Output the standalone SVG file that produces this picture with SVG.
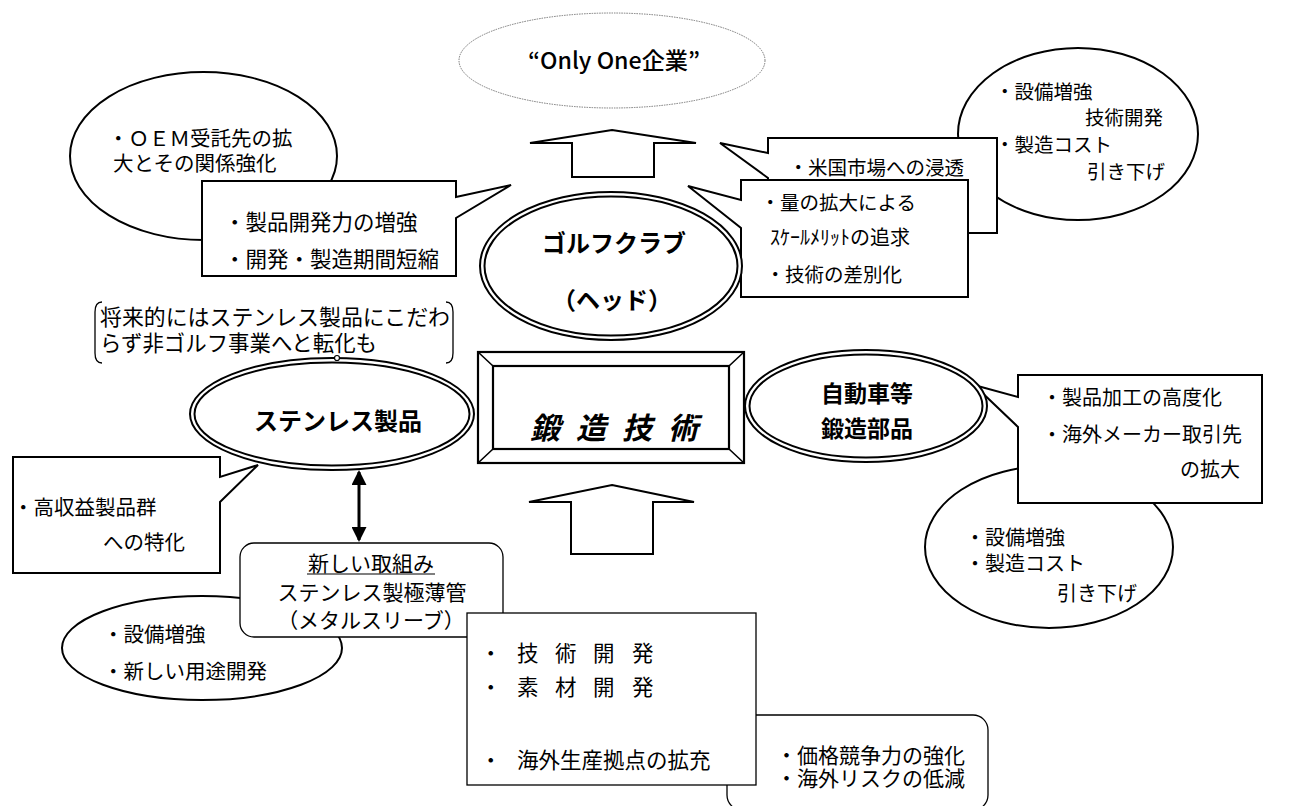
<svg xmlns="http://www.w3.org/2000/svg" width="1303" height="806" viewBox="0 0 1303 806">
<defs>
<style>
.s{fill:#fff;stroke:#000;stroke-width:2}
.th{fill:#fff;stroke:#000;stroke-width:1.3}
.t{font-family:"Noto Sans CJK JP","Noto Sans CJK SC",sans-serif;fill:#000}
.b{font-weight:700}
</style>
<marker id="ah" viewBox="0 0 10 10" refX="8.7" refY="5" markerWidth="15" markerHeight="15" markerUnits="userSpaceOnUse" orient="auto-start-reverse">
<path d="M0,0 L10,5 L0,10 Z" fill="#000"/>
</marker>
</defs>
<rect width="1303" height="806" fill="#fff"/>

<g id="only-one">
<ellipse cx="612" cy="60.5" rx="153" ry="47.5" fill="#fff" stroke="#777" stroke-width="1" stroke-dasharray="1.5 1"/>
<text class="t" x="528" y="69" font-size="23" font-weight="500" textLength="172" lengthAdjust="spacingAndGlyphs">“Only One企業”</text>
</g>

<g id="oem">
<ellipse class="s" cx="203.5" cy="156" rx="133.5" ry="84"/>
<text class="t" font-size="20.5"><tspan x="108" y="146">・ＯＥＭ受託先の拡</tspan><tspan x="113" y="171">大とその関係強化</tspan></text>
</g>

<g id="golf-left-note">
<path class="s" d="M202,181 H456 V197 L511,185 L456,218 V276 H202 Z"/>
<text class="t" font-size="21.5"><tspan x="224" y="230">・製品開発力の増強</tspan><tspan x="224" y="267">・開発・製造期間短縮</tspan></text>
</g>

<g id="topright-ellipse">
<ellipse class="s" cx="1078" cy="134" rx="120" ry="86"/>
<text class="t" font-size="19.5"><tspan x="995" y="99">・設備増強</tspan><tspan x="1085" y="125">技術開発</tspan><tspan x="995" y="152">・製造コスト</tspan><tspan x="1087" y="179">引き下げ</tspan></text>
</g>

<g id="golf-right-note1">
<path class="s" d="M768,138 H997 V233 H768 V178 L720,143 L768,153 Z"/>
<text class="t" font-size="19.5" x="788.5" y="175">・米国市場への浸透</text>
</g>

<g id="golf-right-note2">
<path class="s" d="M741,180 H968 V297 H741 V228 L688,186 L741,200 Z"/>
<text class="t" font-size="19.5"><tspan x="760.5" y="210">・量の拡大による</tspan><tspan x="770" y="245" font-size="20">ｽｹｰﾙﾒﾘｯﾄの追求</tspan><tspan x="765.5" y="282">・技術の差別化</tspan></text>
</g>

<g id="golf">
<ellipse class="s" cx="611" cy="266" rx="131" ry="74"/>
<ellipse fill="none" stroke="#000" stroke-width="2" cx="611" cy="266" rx="126.5" ry="69.5"/>
<text class="t b" font-size="24" text-anchor="middle"><tspan x="614" y="252">ゴルフクラブ</tspan><tspan x="612" y="309">（ヘッド）</tspan></text>
</g>

<g id="future-note">
<path d="M102,302 Q95,302 95,312 L95,353 Q95,363 102,363" fill="none" stroke="#000" stroke-width="1.3"/>
<path d="M446,302 Q453,302 453,312 L453,353 Q453,363 446,363" fill="none" stroke="#000" stroke-width="1.3"/>
<text class="t" font-size="22"><tspan x="100" y="325" textLength="350" lengthAdjust="spacingAndGlyphs">将来的にはステンレス製品にこだわ</tspan><tspan x="100" y="351" textLength="277" lengthAdjust="spacingAndGlyphs">らず非ゴルフ事業へと転化も</tspan></text>
</g>

<g id="stainless-note">
<path class="s" d="M13,457 H220 V477 L258,465 L220,502 V573 H13 Z"/>
<text class="t" font-size="20.5"><tspan x="13" y="515">・高収益製品群</tspan><tspan x="103" y="550">への特化</tspan></text>
</g>

<g id="stainless">
<ellipse class="s" cx="332" cy="414" rx="142" ry="56"/>
<ellipse fill="none" stroke="#000" stroke-width="2" cx="332" cy="414" rx="137.5" ry="51.5"/>
<circle cx="337" cy="358" r="2.5" fill="#fff" stroke="#000" stroke-width="1.2"/>
<text class="t b" font-size="24" x="338" y="430" text-anchor="middle">ステンレス製品</text>
</g>

<g id="forging">
<rect x="478" y="352" width="266" height="111" fill="#fff" stroke="#000" stroke-width="2.2"/>
<rect x="493" y="366" width="236" height="83" fill="none" stroke="#000" stroke-width="2.2"/>
<path d="M478,352 L493,366 M744,352 L729,366 M478,463 L493,449 M744,463 L729,449" stroke="#000" stroke-width="1.6"/>
<text class="t b" font-size="30" font-style="italic" letter-spacing="16" x="530" y="439">鍛造技術</text>
</g>

<g id="auto-lower-ellipse">
<ellipse class="s" cx="1049" cy="547" rx="124" ry="81"/>
<text class="t" font-size="20"><tspan x="965" y="545">・設備増強</tspan><tspan x="965" y="571">・製造コスト</tspan><tspan x="1057" y="601">引き下げ</tspan></text>
</g>

<g id="auto-note">
<path class="s" d="M1018,375 H1262 V503 H1018 V427 L974,385 L1018,397 Z"/>
<text class="t" font-size="20"><tspan x="1042" y="405">・製品加工の高度化</tspan><tspan x="1042" y="442">・海外メーカー取引先</tspan><tspan x="1180" y="477">の拡大</tspan></text>
</g>

<g id="auto">
<ellipse class="s" cx="866" cy="406" rx="121" ry="56"/>
<ellipse fill="none" stroke="#000" stroke-width="2" cx="866" cy="406" rx="116.5" ry="51.5"/>
<text class="t b" font-size="23" text-anchor="middle"><tspan x="867" y="402">自動車等</tspan><tspan x="867" y="437">鍛造部品</tspan></text>
</g>

<g id="lower-left-ellipse">
<ellipse class="s" cx="202" cy="648" rx="140" ry="52"/>
<text class="t" font-size="20.5"><tspan x="103" y="642">・設備増強</tspan><tspan x="103" y="679">・新しい用途開発</tspan></text>
</g>

<g id="new-initiative">
<rect class="th" x="240" y="543" width="263" height="94" rx="14"/>
<text class="t" font-size="21" text-anchor="middle"><tspan x="371" y="571">新しい取組み</tspan><tspan x="372" y="600">ステンレス製極薄管</tspan><tspan x="371" y="628">（メタルスリーブ）</tspan></text>
<line x1="307" y1="574" x2="435" y2="574" stroke="#000" stroke-width="1.2"/>
</g>

<g id="price-note">
<rect class="th" x="727" y="715" width="261" height="95" rx="15"/>
<text class="t" font-size="21"><tspan x="776" y="763">・価格競争力の強化</tspan><tspan x="776" y="786">・海外リスクの低減</tspan></text>
</g>

<g id="development">
<rect class="th" x="467" y="613" width="289" height="172"/>
<text class="t" font-size="21.5"><tspan x="480 517 555 593 632" y="661">・技術開発</tspan><tspan x="480 517 555 593 632" y="695">・素材開発</tspan><tspan x="480" y="768">・</tspan><tspan x="517" y="768">海外生産拠点の拡充</tspan></text>
</g>

<g id="connectors">
<polygon class="s" points="612,130 696,143 654,143 654,177 572,177 572,143 530,143"/>
<polygon class="s" points="612,485 694,502 653,502 653,554 571,554 571,502 529,502"/>
<line x1="359" y1="472" x2="359" y2="540" stroke="#000" stroke-width="3" marker-start="url(#ah)" marker-end="url(#ah)"/>
</g>
</svg>
